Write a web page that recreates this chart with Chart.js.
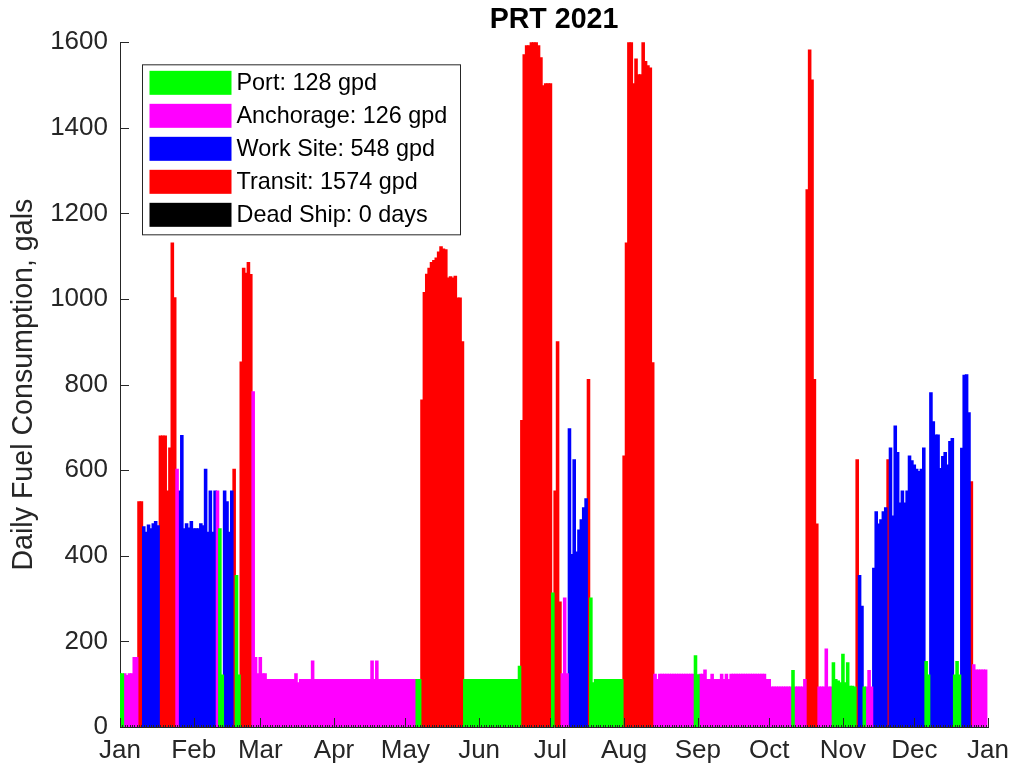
<!DOCTYPE html>
<html>
<head>
<meta charset="utf-8">
<title>PRT 2021</title>
<script src="https://cdn.jsdelivr.net/npm/chart.js@4.4.1/dist/chart.umd.min.js"></script>
<style>
  html, body { margin: 0; padding: 0; background: #fff; }
  canvas { display: block; }
</style>
</head>
<body>
<canvas id="fuelChart" width="1013" height="771"></canvas>
<script>
// month ticks on the x axis (day of year, Jan 1 = 0)
const monthLabels = ['Jan', 'Feb', 'Mar', 'Apr', 'May', 'Jun', 'Jul', 'Aug', 'Sep', 'Oct', 'Nov', 'Dec', 'Jan'];
const monthStarts = [0, 31, 59, 90, 120, 151, 181, 212, 243, 273, 304, 334, 365];

// daily fuel burn in gallons, one value per day of 2021
const dailyGallons = [
  // Jan
  124, 124, 124, 120, 124, 124, 162, 162, 526, 526, 468, 455, 472, 463, 475, 480, 470, 680, 680, 680,
  551, 652, 1131, 1003, 602, 551, 681, 463, 475, 465, 480,
  // Feb
  463, 463, 463, 475, 470, 602, 455, 551, 455, 551, 551, 463, 121, 551, 526, 455, 551, 602, 354, 121,
  853, 1072, 1060, 1085, 1057, 783, 162, 124,
  // Mar
  162, 124, 124, 111, 111, 111, 111, 111, 111, 111, 111, 111, 111, 111, 111, 124, 103, 111, 111, 111,
  111, 111, 154, 111, 111, 111, 111, 111, 111, 111, 111,
  // Apr
  111, 111, 111, 111, 111, 111, 111, 111, 111, 111, 111, 111, 111, 111, 111, 111, 154, 111, 154, 111,
  111, 111, 111, 111, 111, 111, 111, 111, 111, 111,
  // May
  111, 111, 111, 111, 111, 111, 111, 764, 1015, 1058, 1072, 1085, 1090, 1096, 1110, 1122, 1117, 1115, 1049, 1052,
  1049, 1053, 1002, 1002, 900, 111, 111, 111, 111, 111, 111,
  // Jun
  111, 111, 111, 111, 111, 111, 111, 111, 111, 111, 111, 111, 111, 111, 111, 111, 111, 142, 716, 1571,
  1592, 1592, 1600, 1600, 1600, 1592, 1564, 1498, 1503, 1503,
  // Jul
  1503, 313, 551, 900, 292, 124, 301, 124, 697, 403, 624, 409, 460, 484, 512, 533, 812, 301, 103, 111,
  111, 111, 111, 111, 111, 111, 111, 111, 111, 111, 111,
  // Aug
  633, 1131, 1600, 1600, 1503, 1561, 1524, 1524, 1600, 1555, 1545, 1540, 851, 123, 111, 123, 123, 123, 123, 123,
  123, 123, 123, 123, 123, 123, 123, 123, 123, 123, 166,
  // Sep
  122, 123, 123, 133, 111, 111, 123, 111, 111, 111, 123, 111, 123, 111, 123, 123, 123, 123, 123, 123,
  123, 123, 123, 123, 123, 123, 123, 123, 123, 111,
  // Oct
  111, 93, 93, 93, 93, 93, 93, 93, 93, 93, 132, 93, 93, 93, 93, 111, 1255, 1582, 1512, 812,
  474, 93, 93, 93, 182, 93, 93, 150, 111, 107, 103,
  // Nov
  170, 103, 150, 95, 95, 93, 624, 354, 282, 93, 93, 132, 93, 371, 503, 474, 484, 503, 512, 624,
  652, 493, 703, 641, 523, 551, 523, 551, 633, 622,
  // Dec
  612, 602, 597, 602, 652, 153, 121, 781, 713, 682, 682, 604, 632, 641, 612, 667, 674, 121, 153, 121,
  651, 822, 823, 734, 573, 145, 133, 133, 133, 133, 133
];

// vessel mode for each day: P = port, A = anchorage, W = work site, T = transit
const dailyMode = [
  'PPAAAAAATTWWWWWWWTTTTTTTAWWWWWW',   // Jan
  'WWWWWWWWWWAPPWWWWTPPTTTTTAAA',      // Feb
  'AAAAAAAAAAAAAAAAAAAAAAAAAAAAAAA',   // Mar
  'AAAAAAAAAAAAAAAAAAAAAAAAAAAAAA',    // Apr
  'AAAAAPPTTTTTTTTTTTTTTTTTTPPPPPP',   // May
  'PPPPPPPPPPPPPPPPPPTTTTTTTTTTTT',    // Jun
  'TPTTTAAAWWWWWWWWTPPPPPPPPPPPPPP',   // Jul
  'TTTTTTTTTTTTTAAAAAAAAAAAAAAAAAP',   // Aug
  'PAAAAAAAAAAAAAAAAAAAAAAAAAAAAA',    // Sep
  'AAAAAAAAAAPAAAAATTTTTAAAAAAPPPP',   // Oct
  'PPPPPPTWWPAAAWWWWWWTWWWWWWWWWW',    // Nov
  'WWWWWPPWWWWWWWWWWPPPWWWWTAAAAAA'    // Dec
].join('');

const modeKeys = ['P', 'A', 'W', 'T', 'D'];
const legendLabels = ['Port: 128 gpd', 'Anchorage: 126 gpd', 'Work Site: 548 gpd', 'Transit: 1574 gpd', 'Dead Ship: 0 days'];
const legendColors = ['#00ff00', '#ff00ff', '#0000ff', '#ff0000', '#000000'];

const fontFamily = '"Liberation Sans", Arial, Helvetica, sans-serif';
const axisColor = '#262626';

// one bar dataset per mode, each day only shows up in its own mode
const datasets = modeKeys.map(function (key, m) {
  const points = [];
  dailyGallons.forEach(function (g, d) {
    if (dailyMode[d] === key) points.push({ x: d, y: g });
  });
  return {
    label: legendLabels[m],
    data: points,
    backgroundColor: legendColors[m],
    borderWidth: 0,
    grouped: false,
    barPercentage: 1,
    categoryPercentage: 1,
    inflateAmount: 0.6     // small overlap so neighbouring days don't leave white seams
  };
});

// inward ticks and the boxed legend inside the plot, the way the original figure has them
const axesExtras = {
  id: 'axesExtras',
  afterDraw(chart) {
    const ctx = chart.ctx;
    const a = chart.chartArea;
    const x = chart.scales.x;
    const y = chart.scales.y;
    ctx.save();
    ctx.strokeStyle = axisColor;
    ctx.lineWidth = 1;
    ctx.beginPath();
    y.ticks.forEach(function (t) {
      const py = Math.round(y.getPixelForValue(t.value)) + 0.5;
      ctx.moveTo(a.left, py);
      ctx.lineTo(a.left + 9, py);
    });
    monthStarts.forEach(function (v) {
      const px = Math.round(x.getPixelForValue(v)) + 0.5;
      ctx.moveTo(px, a.bottom);
      ctx.lineTo(px, a.bottom - 9);
    });
    for (let d = 0; d <= 365; d++) {
      const px = Math.round(x.getPixelForValue(d)) + 0.5;
      ctx.moveTo(px, a.bottom);
      ctx.lineTo(px, a.bottom - 2);
    }
    ctx.stroke();

    // legend box
    const bx = a.left + 22.5, by = a.top + 22.5, bw = 318, bh = 170;
    ctx.fillStyle = '#ffffff';
    ctx.fillRect(bx, by, bw, bh);
    ctx.strokeStyle = axisColor;
    ctx.strokeRect(bx, by, bw, bh);
    ctx.font = '23.4px ' + fontFamily;
    ctx.textBaseline = 'middle';
    ctx.textAlign = 'left';
    legendLabels.forEach(function (label, i) {
      const rowTop = by + 6 + i * 33;
      ctx.fillStyle = legendColors[i];
      ctx.fillRect(bx + 7, rowTop, 82, 24);
      ctx.fillStyle = '#000000';
      ctx.fillText(label, bx + 94, rowTop + 13);
    });
    ctx.restore();
  }
};

const chart = new Chart(document.getElementById('fuelChart').getContext('2d'), {
  type: 'bar',
  data: { datasets: datasets },
  options: {
    responsive: false,
    animation: false,
    layout: { padding: { left: 0, right: 25, top: 0, bottom: 0 } },
    plugins: {
      legend: { display: false },
      tooltip: { enabled: false },
      title: {
        display: true,
        text: 'PRT 2021',
        fullSize: false,
        color: '#000000',
        font: { family: fontFamily, size: 28.6, weight: 'bold' },
        padding: { top: 3, bottom: 5 }
      }
    },
    scales: {
      x: {
        type: 'linear',
        min: 0,
        max: 365,
        offset: false,
        grid: { display: false, drawTicks: false },
        border: { display: true, color: axisColor, width: 1 },
        afterBuildTicks: function (scale) {
          scale.ticks = monthStarts.map(function (v) { return { value: v }; });
        },
        afterFit: function (scale) {
          scale.height = 44;
          // the end labels fit in the fixed margins, so no extra room is reserved for them
          scale.paddingLeft = 0;
          scale.paddingRight = 0;
        },
        ticks: {
          autoSkip: false,
          maxRotation: 0,
          padding: 8,
          color: axisColor,
          font: { family: fontFamily, size: 26 },
          callback: function (value, index) { return monthLabels[index]; }
        }
      },
      y: {
        min: 0,
        max: 1600,
        grid: { display: false, drawTicks: false },
        border: { display: true, color: axisColor, width: 1 },
        afterFit: function (scale) { scale.width = 120; },
        ticks: {
          stepSize: 200,
          padding: 12,
          color: axisColor,
          font: { family: fontFamily, size: 26 },
          callback: function (value) { return String(value); }
        },
        title: {
          display: true,
          text: 'Daily Fuel Consumption, gals',
          color: axisColor,
          font: { family: fontFamily, size: 28.6 },
          padding: { top: 7, bottom: 0 }
        }
      }
    }
  },
  plugins: [axesExtras]
});
</script>
</body>
</html>
